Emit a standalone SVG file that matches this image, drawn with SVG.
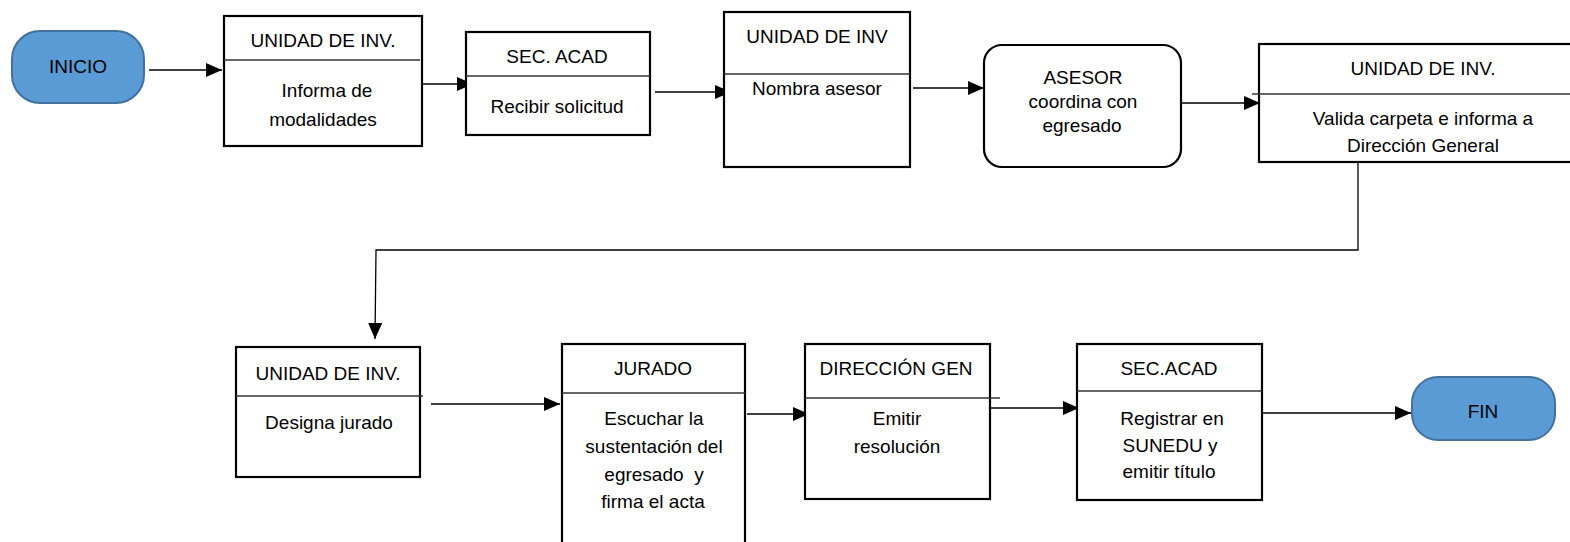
<svg xmlns="http://www.w3.org/2000/svg" width="1570" height="542" viewBox="0 0 1570 542">
<style>
  text { font-family: "Liberation Sans", Arial, sans-serif; font-size: 19px; fill: #000; text-anchor: middle; }
  .box { fill: #fff; stroke: #000; stroke-width: 2.2; }
  .term { fill: #5b9bd5; stroke: #41719c; stroke-width: 2; }
  .div { stroke: #333; stroke-width: 1.3; fill: none; }
  .conn { stroke: #000; stroke-width: 1.3; fill: none; marker-end: url(#arr); }
</style>
<defs>
  <marker id="arr" markerUnits="userSpaceOnUse" markerWidth="16" markerHeight="14" refX="16" refY="7" orient="auto">
    <path d="M0,0 L16,7 L0,14 z" fill="#000"/>
  </marker>
</defs>
<rect width="1570" height="542" fill="#fff"/>

<g id="connectors">
  <line class="conn" x1="149" y1="70" x2="222" y2="70"/>
  <line class="conn" x1="421" y1="84" x2="473" y2="84"/>
  <line class="conn" x1="655" y1="92" x2="731" y2="92"/>
  <line class="conn" x1="913" y1="88" x2="984" y2="88"/>
  <line class="conn" x1="1182" y1="103" x2="1260" y2="103"/>
  <polyline class="conn" points="1358,162 1358,250 376,250 375,339"/>
  <line class="conn" x1="431" y1="404" x2="560" y2="404"/>
  <line class="conn" x1="747" y1="414" x2="809" y2="414"/>
  <line class="conn" x1="990" y1="408" x2="1079" y2="408"/>
  <line class="conn" x1="1262" y1="413" x2="1411" y2="413"/>
</g>

<g id="inicio">
  <rect class="term" x="12" y="31" width="132" height="72" rx="28" ry="28"/>
  <text x="78" y="73">INICIO</text>
</g>

<g id="unidad1">
  <rect class="box" x="224" y="16" width="198" height="130"/>
  <line class="div" x1="224" y1="60" x2="420" y2="60"/>
  <text x="323" y="47">UNIDAD DE INV.</text>
  <text x="327" y="97">Informa de</text>
  <text x="323" y="126">modalidades</text>
</g>

<g id="secacad1">
  <rect class="box" x="466" y="32" width="184" height="103"/>
  <line class="div" x1="466" y1="76" x2="650" y2="76"/>
  <text x="557" y="63">SEC. ACAD</text>
  <text x="557" y="113">Recibir solicitud</text>
</g>

<g id="unidad2">
  <rect class="box" x="724" y="12" width="186" height="155"/>
  <line class="div" x1="724" y1="74" x2="910" y2="74"/>
  <text x="817" y="43">UNIDAD DE INV</text>
  <text x="817" y="95">Nombra asesor</text>
</g>

<g id="asesor">
  <rect class="box" x="984" y="45" width="197" height="122" rx="18" ry="18"/>
  <text x="1083" y="84">ASESOR</text>
  <text x="1083" y="108">coordina con</text>
  <text x="1082" y="132">egresado</text>
</g>

<g id="unidad3">
  <rect class="box" x="1259" y="44" width="330" height="118"/>
  <line class="div" x1="1252" y1="94" x2="1589" y2="94"/>
  <text x="1423" y="75">UNIDAD DE INV.</text>
  <text x="1423" y="125">Valida carpeta e informa a</text>
  <text x="1423" y="152">Dirección General</text>
</g>

<g id="unidad4">
  <rect class="box" x="236" y="347" width="184" height="130"/>
  <line class="div" x1="236" y1="396" x2="423" y2="396"/>
  <text x="328" y="380">UNIDAD DE INV.</text>
  <text x="329" y="429">Designa jurado</text>
</g>

<g id="jurado">
  <rect class="box" x="562" y="344" width="183" height="220"/>
  <line class="div" x1="562" y1="393" x2="745" y2="393"/>
  <text x="653" y="375">JURADO</text>
  <text x="654" y="425">Escuchar la</text>
  <text x="654" y="453">sustentación del</text>
  <text x="654" y="481" xml:space="preserve">egresado  y</text>
  <text x="653" y="508">firma el acta</text>
</g>

<g id="direccion">
  <rect class="box" x="805" y="344" width="185" height="155"/>
  <line class="div" x1="805" y1="398" x2="1000" y2="398"/>
  <text x="896" y="375">DIRECCIÓN GEN</text>
  <text x="897" y="425">Emitir</text>
  <text x="897" y="453">resolución</text>
</g>

<g id="secacad2">
  <rect class="box" x="1077" y="344" width="185" height="156"/>
  <line class="div" x1="1077" y1="391" x2="1262" y2="391"/>
  <text x="1169" y="375">SEC.ACAD</text>
  <text x="1172" y="425">Registrar en</text>
  <text x="1170" y="452">SUNEDU y</text>
  <text x="1169" y="478">emitir título</text>
</g>

<g id="fin">
  <rect class="term" x="1412" y="377" width="143" height="63" rx="26" ry="26"/>
  <text x="1483" y="418">FIN</text>
</g>
</svg>
